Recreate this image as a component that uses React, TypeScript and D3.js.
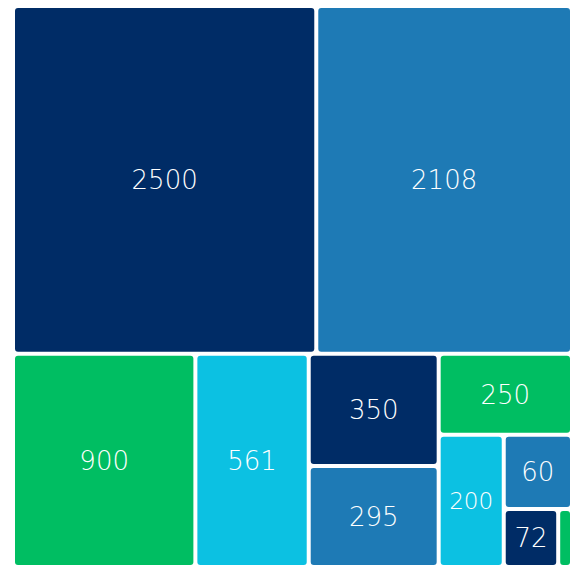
import React, { useMemo } from 'react';
import * as d3 from 'd3';

// Displayed labels (original data order)
const labels = ["2500", "2108", "900", "561", "350", "295", "250", "200", "72", "60", ""];
// Area weights (same order)
const weights = [2500, 2108, 922, 573, 346, 311, 256, 204, 75, 120, 19];
// Colour cycle by data index
const palette = ["#002C66", "#1E7AB5", "#00BE62", "#0CC1E2"];

const WIDTH = 577;
const HEIGHT = 565;
const LEFT = 15;
const TOP = 8;
const PLOT_W = 555;
const PLOT_H = 557;
const GAP = 4;

type Datum = { label?: string; weight?: number; idx?: number; children?: Datum[] };

export default function App() {
  const leaves = useMemo(() => {
    const data: Datum = {
      children: weights.map((w, i) => ({ label: labels[i], weight: w, idx: i })),
    };
    const root = d3
      .hierarchy<Datum>(data)
      .sum((d) => d.weight ?? 0)
      .sort((a, b) => (b.value ?? 0) - (a.value ?? 0));
    d3.treemap<Datum>()
      .tile(d3.treemapSquarify.ratio(1))
      .size([PLOT_W, PLOT_H])
      .paddingInner(GAP)(root);
    return root.leaves() as d3.HierarchyRectangularNode<Datum>[];
  }, []);

  return (
    <svg
      width={WIDTH}
      height={HEIGHT}
      style={{ position: 'absolute', left: 0, top: 0, display: 'block' }}
    >
      <rect x={0} y={0} width={WIDTH} height={HEIGHT} fill="#ffffff" />
      <g transform={`translate(${LEFT},${TOP})`}>
        {leaves.map((n, i) => {
          const w = n.x1 - n.x0;
          const h = n.y1 - n.y0;
          const label = n.data.label ?? '';
          const fs = label ? Math.min(26, (w - 18) / (label.length * 0.62)) : 0;
          return (
            <g key={i}>
              <rect
                x={n.x0}
                y={n.y0}
                width={w}
                height={h}
                rx={3}
                ry={3}
                fill={palette[(n.data.idx ?? 0) % palette.length]}
              />
              {label && fs > 8 && (
                <text
                  x={n.x0 + w / 2}
                  y={n.y0 + h / 2}
                  dy="0.36em"
                  textAnchor="middle"
                  fill="#ffffff"
                  fontFamily="'DejaVu Sans', sans-serif"
                  fontWeight={200}
                  fontSize={fs}
                >
                  {label}
                </text>
              )}
            </g>
          );
        })}
      </g>
    </svg>
  );
}
